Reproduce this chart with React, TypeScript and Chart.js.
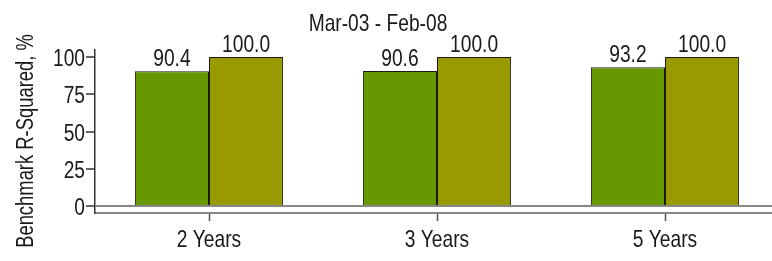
import React, { useEffect, useRef } from "react";
import { Chart, registerables } from "chart.js";

Chart.register(...registerables);

const categories = ["2 Years", "3 Years", "5 Years"];
const seriesFund = [90.4, 90.6, 93.2];
const seriesBenchmark = [100.0, 100.0, 100.0];
const yTickValues = [0, 25, 50, 75, 100];
const yTickLabels = ["0", "25", "50", "75", "100"];
const chartTitle = "Mar-03 - Feb-08";
const yAxisTitle = "Benchmark R-Squared, %";

const FONT = "'Liberation Sans', Arial, sans-serif";
const FONT_SIZE = 24;
const NARROW = 0.8;
const TEXT_COLOR = "#1a1a1a";

function drawNarrow(ctx: any, text: string, x: number, y: number, align: string, size: number, rotate = 0) {
  ctx.save();
  ctx.font = `${size}px ${FONT}`;
  ctx.translate(x, y);
  if (rotate) ctx.rotate(rotate);
  ctx.scale(NARROW, 1);
  ctx.textAlign = align;
  ctx.textBaseline = "alphabetic";
  ctx.fillText(text, 0, 0);
  ctx.restore();
}

const textPlugin = {
  id: "customText",
  afterDraw(chart: any) {
    const ctx = chart.ctx;
    ctx.save();
    ctx.fillStyle = TEXT_COLOR;
    // value labels
    chart.data.datasets.forEach((ds: any, i: number) => {
      const meta = chart.getDatasetMeta(i);
      meta.data.forEach((bar: any, j: number) => {
        drawNarrow(ctx, Number(ds.data[j]).toFixed(1), bar.x, bar.y - 5, "center", FONT_SIZE);
      });
    });
    // y tick labels
    const ys = chart.scales.y;
    yTickValues.forEach((v, i) => {
      drawNarrow(ctx, yTickLabels[i], ys.right - 10, ys.getPixelForValue(v) + 9, "right", FONT_SIZE);
    });
    // x tick labels
    const xs = chart.scales.x;
    categories.forEach((c, i) => {
      drawNarrow(ctx, c, xs.getPixelForTick(i), 247, "center", FONT_SIZE);
    });
    // chart title
    drawNarrow(ctx, chartTitle, 378, 31, "center", FONT_SIZE);
    // y axis title
    drawNarrow(ctx, yAxisTitle, 33, 141, "center", 23, -Math.PI / 2);
    ctx.restore();
  },
};

function App() {
  const canvasRef = useRef<HTMLCanvasElement | null>(null);

  useEffect(() => {
    if (!canvasRef.current) return;
    const chart = new Chart(canvasRef.current, {
      type: "bar",
      data: {
        labels: categories,
        datasets: [
          {
            label: "Fund",
            data: seriesFund,
            backgroundColor: "#669900",
            borderColor: "#1a1a1a",
            borderWidth: 1,
            barPercentage: 1,
            categoryPercentage: 0.65,
          },
          {
            label: "Benchmark",
            data: seriesBenchmark,
            backgroundColor: "#999900",
            borderColor: "#1a1a1a",
            borderWidth: 1,
            barPercentage: 1,
            categoryPercentage: 0.65,
          },
        ],
      },
      options: {
        animation: false,
        responsive: false,
        maintainAspectRatio: false,
        layout: { padding: { top: 50, left: 0, right: 1, bottom: 0 } },
        plugins: {
          legend: { display: false },
          title: { display: false },
          tooltip: { enabled: false },
        },
        scales: {
          x: {
            grid: {
              offset: false,
              drawOnChartArea: false,
              drawTicks: true,
              tickLength: 8,
              tickColor: "#555555",
              tickWidth: 1.5,
            },
            border: { display: true, color: "#888888", width: 2 },
            ticks: { display: false },
            afterFit: (scale: any) => {
              scale.height = 48;
            },
          },
          y: {
            min: -4.7,
            max: 104.7,
            afterBuildTicks: (scale: any) => {
              scale.ticks = yTickValues.map((v) => ({ value: v }));
            },
            grid: {
              drawOnChartArea: true,
              color: (ctx: any) => (ctx.tick && ctx.tick.value === 0 ? "#888888" : "rgba(0,0,0,0)"),
              lineWidth: (ctx: any) => (ctx.tick && ctx.tick.value === 0 ? 2 : 0),
              tickColor: "#333333",
              tickWidth: 1.5,
              tickLength: 9,
            },
            border: { display: true, color: "#333333", width: 1.5 },
            ticks: { display: false },
            afterFit: (scale: any) => {
              scale.width = 95;
            },
          },
        },
      },
      plugins: [textPlugin],
    });
    return () => chart.destroy();
  }, []);

  return (
    <div
      style={{
        position: "fixed",
        left: 0,
        top: 0,
        width: 772,
        height: 261,
        overflow: "hidden",
        background: "#ffffff",
      }}
    >
      <canvas ref={canvasRef} width={780} height={261} style={{ display: "block", width: 780, height: 261 }} />
    </div>
  );
}

export default App;
